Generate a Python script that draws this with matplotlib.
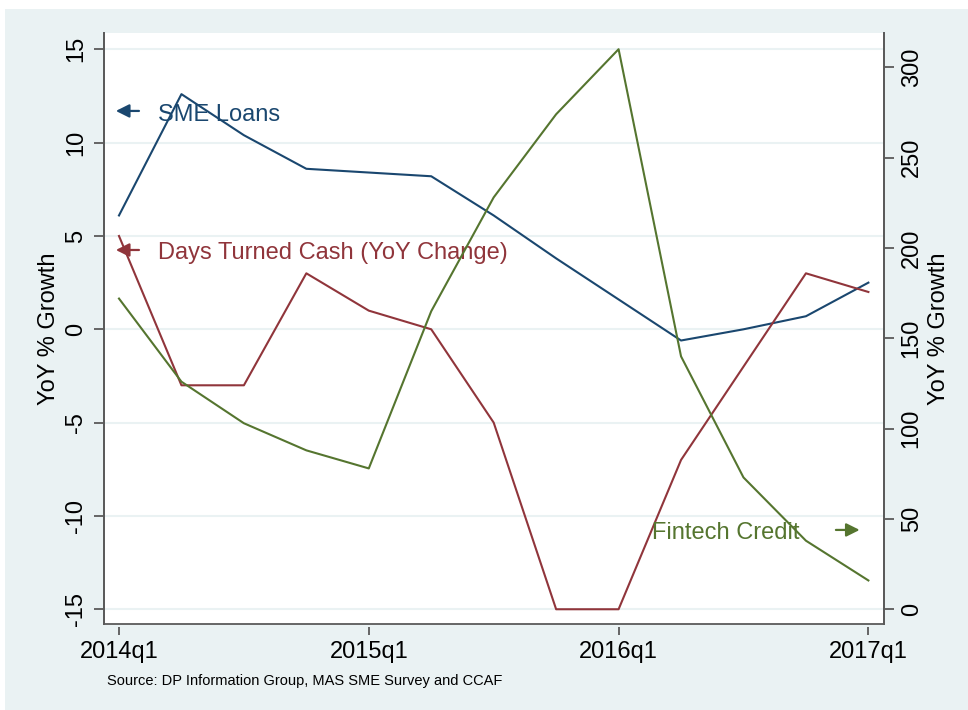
import numpy as np
import matplotlib
matplotlib.use('Agg')
import matplotlib.pyplot as plt
from matplotlib.patches import Rectangle

plt.rcParams['font.family'] = ['Liberation Sans', 'DejaVu Sans']
plt.rcParams['axes.unicode_minus'] = False

quarters = np.arange(13)
tick_pos = [0, 4, 8, 12]
tick_labels = ['2014q1', '2015q1', '2016q1', '2017q1']

# left axis (YoY % growth)
sme_loans = [6.1, 12.6, 10.4, 8.6, 8.4, 8.2, 6.1, 3.8, 1.6, -0.6, 0.0, 0.7, 2.5]
days_cash = [5, -3, -3, 3, 1, 0, -5, -15, -15, -7, -2, 3, 2]
# right axis
fintech = [172, 126, 103, 88, 78, 165, 228, 274, 310, 140, 73, 38, 16]

blue = '#1a476f'
red = '#90353b'
green = '#55752f'
bg = '#eaf2f3'
axcol = '#5a5a5a'

fig = plt.figure(figsize=(9.68, 7.10), dpi=100)
fig.patch.set_facecolor('white')
fig.patches.append(Rectangle((5/968, 0), 1, 1 - 9/710, transform=fig.transFigure,
                             facecolor=bg, edgecolor='none', zorder=-10))

ax = fig.add_axes([104/968, 1 - 624/710, (884 - 104)/968, (624 - 33.3)/710])
ax2 = ax.twinx()

ax.plot(quarters, sme_loans, color=blue, lw=1.5)
ax.plot(quarters, days_cash, color=red, lw=1.5)
ax2.plot(quarters, fintech, color=green, lw=1.5)

ax.set_xlim(-0.24, 12.25)
ax.set_ylim(-15.79, 15.86)
ax2.set_ylim(-8.1, 318.8)

ax.set_yticks([-15, -10, -5, 0, 5, 10, 15])
ax2.set_yticks([0, 50, 100, 150, 200, 250, 300])
ax.set_xticks(tick_pos)
ax.set_xticklabels(tick_labels)

ax.grid(True, axis='y', color=bg, lw=1.5)
ax.set_axisbelow(True)

for a in (ax, ax2):
    for s in a.spines.values():
        s.set_color(axcol)
        s.set_linewidth(1.3)
    a.spines['top'].set_visible(False)
ax.spines['bottom'].set_position(('outward', 2))
ax.spines['bottom'].set_color('none')
ax2.spines['bottom'].set_visible(False)
ax.plot([0, 1], [0, 0], transform=ax.transAxes, color=axcol, lw=1.3, clip_on=False)

ax.tick_params(axis='y', direction='out', length=7, width=1.3, color=axcol,
               labelsize=17, pad=5, labelrotation=90)
for t in ax.get_yticklabels():
    t.set_va('center')
ax2.tick_params(axis='y', direction='out', length=7, width=1.3, color=axcol,
                labelsize=17, pad=5, labelrotation=90)
for t in ax2.get_yticklabels():
    t.set_va('center')
ax.tick_params(axis='x', direction='out', length=6, width=1.3, color=axcol,
               labelsize=17, pad=4)

ax.set_ylabel('YoY % Growth', fontsize=17, labelpad=4)
ax2.set_ylabel('YoY % Growth', fontsize=17, labelpad=4)

# series labels with arrows pointing to their axis
arrow = dict(arrowstyle='-|>', lw=1.6, mutation_scale=20, shrinkA=0, shrinkB=0)
ax.annotate('', xy=(-0.05, 11.7), xytext=(0.32, 11.7),
            arrowprops=dict(arrow, color=blue))
ax.text(0.63, 11.5, 'SME Loans', color=blue, fontsize=17, va='center')
ax.annotate('', xy=(-0.05, 4.25), xytext=(0.32, 4.25),
            arrowprops=dict(arrow, color=red))
ax.text(0.63, 4.1, 'Days Turned Cash (YoY Change)', color=red, fontsize=17, va='center')
ax.annotate('', xy=(11.86, -10.75), xytext=(11.48, -10.75),
            arrowprops=dict(arrow, color=green))
ax.text(8.53, -10.9, 'Fintech Credit', color=green, fontsize=17, va='center')

fig.text(107/968, 1 - 681/710, 'Source: DP Information Group, MAS SME Survey and CCAF',
         fontsize=10.5, va='center')

plt.savefig('out.png', dpi=100, facecolor=fig.get_facecolor())
